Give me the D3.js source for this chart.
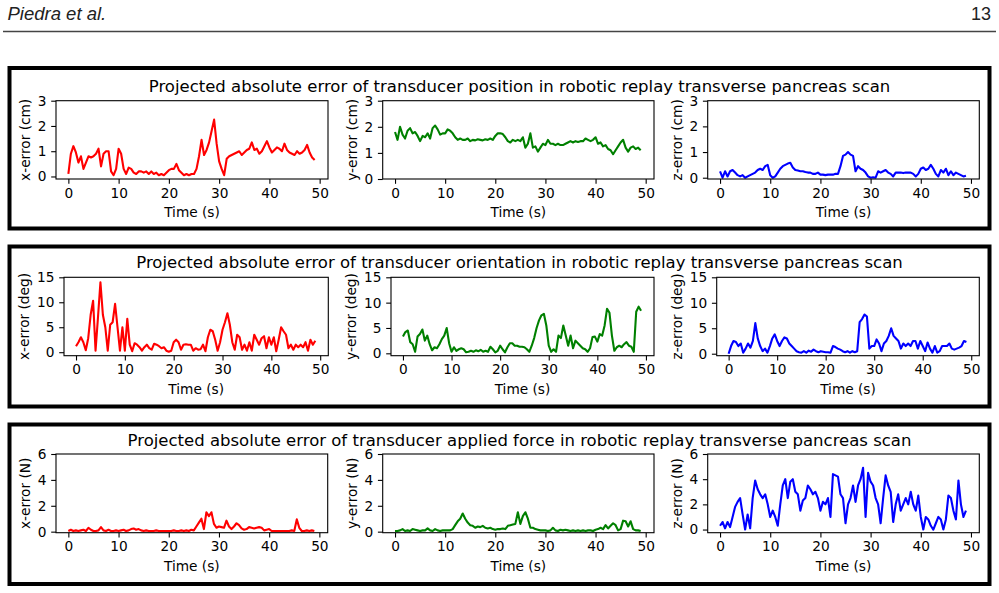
<!DOCTYPE html>
<html>
<head>
<meta charset="utf-8">
<script src="https://cdn.jsdelivr.net/npm/d3@7"></script>
<style>
  body { margin: 0; background: #fff; }
  svg { display: block; }
</style>
</head>
<body>
<div id="chart"></div>
<script>
const timeStep = 0.5;

const xTicks   = [0, 10, 20, 30, 40, 50];
const cmTicks  = [0, 1, 2, 3];
const degTicks = [0, 5, 10, 15];
const nTicks   = [0, 2, 4, 6];

const panelTitles = [
  "Projected absolute error of transducer position in robotic replay transverse pancreas scan",
  "Projected absolute error of transducer orientation in robotic replay transverse pancreas scan",
  "Projected absolute error of transducer applied force in robotic replay transverse pancreas scan"
];

const yLabels = [
  ["x-error (cm)", "y-error (cm)", "z-error (cm)"],
  ["x-error (deg)", "y-error (deg)", "z-error (deg)"],
  ["x-error (N)", "y-error (N)", "z-error (N)"]
];

const seriesColors = ["#ff0000", "#008000", "#0000ff"];

const posX = [
  0.1, 0.9, 1.2, 0.95, 0.55, 0.8, 0.3, 0.55, 0.8, 0.75,
  0.8, 0.9, 1.1, 0.4, 0.9, 1.0, 1.0, 0.2, 0.05, 0.3,
  1.1, 0.9, 0.3, 0.1, 0.35, 0.3, 0.15, 0.1, 0.2, 0.2,
  0.15, 0.2, 0.1, 0.2, 0.1, 0.15, 0.05, 0.1, 0.05, 0.15,
  0.25, 0.3, 0.3, 0.5, 0.25, 0.15, 0.05, 0.1, 0.05, 0.1,
  0.1, 0.3, 0.8, 1.45, 0.85, 1.05, 1.35, 1.8, 2.25, 1.3,
  0.6, 0.3, 0.05, 0.7, 0.8, 0.85, 0.9, 0.95, 1.0, 0.85,
  0.95, 1.05, 1.1, 1.35, 1.05, 1.1, 0.9, 1.0, 1.2, 1.4,
  1.15, 0.95, 1.05, 1.15, 1.1, 1.0, 1.3, 1.05, 0.95, 0.9,
  0.85, 1.0, 0.9, 0.95, 1.05, 1.25, 0.95, 0.75, 0.65
];
const posY = [
  1.8, 1.5, 2.0, 1.7, 1.55, 1.85, 1.95, 1.75, 1.8, 1.65,
  1.45, 1.65, 1.6, 1.75, 1.55, 1.95, 2.05, 1.9, 1.7, 1.75,
  1.75, 1.9, 1.85, 1.75, 1.6, 1.5, 1.55, 1.5, 1.5, 1.55,
  1.45, 1.5, 1.48, 1.52, 1.5, 1.48, 1.52, 1.5, 1.55, 1.5,
  1.65, 1.75, 1.75, 1.72, 1.6, 1.45, 1.4, 1.5, 1.45, 1.5,
  1.45, 1.6, 1.2, 1.35, 1.75, 1.2, 1.25, 1.05, 1.2, 1.35,
  1.3, 1.5, 1.35, 1.35, 1.3, 1.35, 1.3, 1.3, 1.35, 1.4,
  1.45, 1.4, 1.45, 1.42, 1.45, 1.45, 1.55, 1.5, 1.45, 1.5,
  1.6, 1.35, 1.4, 1.25, 1.3, 1.15, 1.1, 0.95, 1.1, 1.25,
  1.4, 1.5, 1.2, 1.05, 1.2, 1.25, 1.15, 1.2, 1.1
];
const posZ = [
  0.25, 0.0, 0.25, 0.05, 0.25, 0.3, 0.2, 0.1, 0.05, 0.1,
  0.0, 0.05, 0.1, 0.15, 0.2, 0.3, 0.35, 0.3, 0.45, 0.5,
  0.1, 0.0, 0.05, 0.2, 0.35, 0.45, 0.5, 0.55, 0.58, 0.4,
  0.3, 0.28, 0.25, 0.25, 0.22, 0.2, 0.2, 0.15, 0.15, 0.2,
  0.12, 0.12, 0.1, 0.12, 0.12, 0.12, 0.15, 0.15, 0.45, 0.85,
  0.9, 1.0, 0.9, 0.85, 0.25, 0.45, 0.35, 0.3, 0.2, 0.05,
  0.0, 0.02, 0.0, 0.25, 0.2, 0.25, 0.3, 0.2, 0.15, 0.05,
  0.2, 0.2, 0.2, 0.18, 0.2, 0.2, 0.2, 0.15, 0.05, 0.15,
  0.35, 0.4, 0.3, 0.35, 0.5, 0.35, 0.15, 0.05, 0.3, 0.2,
  0.35, 0.1, 0.25, 0.1, 0.2, 0.15, 0.1, 0.05, 0.08
];
const oriX = [
  1.2, 2.0, 3.0, 2.0, 0.4, 2.8, 7.5, 10.3, 0.3, 7.0,
  14.0, 7.5, 5.0, 0.3, 5.5, 6.0, 9.7, 5.0, 0.3, 5.0,
  0.3, 6.7, 1.5, 0.2, 1.8, 1.5, 1.0, 0.3, 1.0, 1.5,
  0.8, 0.5, 1.7, 1.5, 1.2, 0.8, 1.0, 0.3, 0.1, 0.3,
  2.0, 2.5, 2.0, 0.5, 1.5, 1.6, 1.5, 1.5, 0.3, 0.8,
  0.5, 0.6, 1.5, 0.2, 3.0, 4.5, 4.2, 2.5, 0.3, 2.0,
  4.5, 6.0, 7.8, 5.5, 2.0, 0.5, 3.5, 3.0, 0.5, 1.5,
  0.3, 2.0, 0.3, 3.5, 2.5, 1.5, 2.8, 3.2, 0.8, 3.0,
  1.5, 3.0, 0.2, 2.5, 5.0, 4.2, 3.5, 0.8, 1.5, 0.5,
  1.5, 1.0, 1.5, 1.0, 2.0, 0.3, 2.5, 1.5, 2.3
];
const oriY = [
  3.3, 4.2, 4.5, 2.2, 1.8, 0.3, 3.3, 3.8, 4.7, 2.5,
  3.5, 1.8, 0.6, 1.2, 1.0, 1.8, 2.8, 3.5, 5.0, 2.0,
  0.3, 1.2, 0.5, 0.8, 1.0, 0.8, 0.2, 0.3, 0.5, 0.3,
  0.6, 0.4, 0.7, 0.3, 0.5, 0.3, 1.3, 0.8, 0.2, 0.5,
  1.5, 0.8, 0.2, 1.2, 2.0, 2.0, 1.5, 1.5, 1.3, 1.3,
  1.2, 0.8, 0.3, 1.5, 3.0, 5.0, 6.5, 7.5, 7.8, 5.5,
  1.5, 0.3, 0.8, 0.3, 3.5, 3.0, 5.5, 3.5, 1.5, 3.5,
  1.0, 2.5, 2.0, 1.5, 1.0, 0.8, 0.3, 1.0, 3.2, 3.3,
  2.3, 3.8, 3.5, 5.5, 8.8, 8.0, 3.5, 0.5, 1.2, 1.5,
  1.2, 1.8, 2.2, 1.5, 1.3, 0.3, 8.2, 9.2, 8.4
];
const oriZ = [
  0.0, 1.5, 2.5, 2.3, 1.5, 2.0, 0.2, 1.0, 2.0, 1.2,
  2.5, 6.0, 3.0, 1.5, 0.5, 1.0, 0.2, 1.5, 3.0, 3.8,
  2.5, 1.5, 2.5, 3.2, 3.0, 2.0, 1.5, 1.0, 0.5, 0.3,
  0.2, 0.5, 0.2, 0.6, 0.4, 0.8, 0.5, 0.3, 0.5, 0.4,
  0.3, 0.3, 0.2, 1.5, 1.3, 1.0, 0.8, 0.5, 0.3, 0.5,
  0.2, 0.5, 0.3, 0.5, 6.2, 6.8, 7.7, 7.3, 1.0, 1.5,
  1.5, 2.8, 2.0, 0.5, 2.0, 2.5, 3.5, 5.0, 3.5, 3.0,
  2.5, 1.0, 2.0, 1.5, 2.0, 1.5, 2.5, 2.5, 1.0, 2.5,
  1.5, 0.5, 2.2, 1.0, 0.2, 1.5, 0.2, 0.5, 1.5, 1.5,
  1.5, 2.0, 1.0, 0.8, 1.0, 1.2, 1.5, 2.5, 2.3
];
const forceX = [
  0.05, 0.15, 0.05, 0.1, 0.05, 0.1, 0.15, 0.05, 0.3, 0.15,
  0.05, 0.05, 0.1, 0.35, 0.1, 0.05, 0.15, 0.05, 0.05, 0.1,
  0.05, 0.1, 0.15, 0.05, 0.1, 0.2, 0.25, 0.15, 0.2, 0.1,
  0.05, 0.1, 0.05, 0.05, 0.05, 0.1, 0.05, 0.05, 0.05, 0.05,
  0.05, 0.05, 0.1, 0.05, 0.05, 0.1, 0.05, 0.1, 0.05, 0.15,
  0.1, 0.4, 0.7, 1.0, 0.2, 1.5, 1.2, 1.5, 0.6, 0.3,
  0.4, 0.35, 0.3, 0.85, 0.4, 0.2, 0.4, 0.65, 0.5, 0.25,
  0.15, 0.2, 0.35, 0.3, 0.25, 0.3, 0.35, 0.3, 0.1, 0.15,
  0.2, 0.05, 0.05, 0.05, 0.05, 0.05, 0.05, 0.05, 0.05, 0.1,
  0.05, 0.95, 0.3, 0.05, 0.05, 0.1, 0.05, 0.1, 0.05
];
const forceY = [
  0.05, 0.05, 0.1, 0.2, 0.05, 0.1, 0.05, 0.2, 0.15, 0.1,
  0.05, 0.1, 0.1, 0.25, 0.1, 0.05, 0.2, 0.1, 0.05, 0.1,
  0.1, 0.1, 0.1, 0.2, 0.5, 0.8, 1.0, 1.4, 1.0, 0.7,
  0.5, 0.45, 0.3, 0.4, 0.35, 0.45, 0.3, 0.25, 0.3, 0.2,
  0.15, 0.2, 0.2, 0.25, 0.2, 0.45, 0.5, 0.55, 0.6, 1.5,
  0.6, 1.2, 1.5, 1.0, 0.3, 0.3, 0.2, 0.15, 0.1, 0.1,
  0.1, 0.05, 0.1, 0.3, 0.1, 0.05, 0.15, 0.1, 0.15, 0.1,
  0.05, 0.1, 0.05, 0.1, 0.05, 0.1, 0.05, 0.1, 0.1, 0.05,
  0.15, 0.2, 0.3, 0.2, 0.5, 0.25, 0.45, 0.65, 0.5, 0.1,
  0.2, 0.85, 0.8, 0.4, 0.8, 0.2, 0.1, 0.1, 0.05
];
const forceZ = [
  0.3, 0.6, 0.1, 0.6, 0.2, 1.0, 1.8, 2.2, 2.5, 1.2,
  0.0, 1.2, 0.1, 2.5, 3.9, 3.2, 2.8, 2.5, 2.8, 2.0,
  1.0, 1.5, 1.0, 0.3, 2.0, 3.5, 4.0, 2.5, 3.8, 4.0,
  3.0, 2.8, 1.5, 2.3, 2.5, 3.5, 3.2, 2.8, 3.0, 2.5,
  1.5, 2.2, 2.0, 2.5, 1.0, 4.4, 4.3, 4.2, 2.8, 2.5,
  0.5, 2.0, 2.5, 3.5, 2.2, 3.5, 4.0, 4.9, 1.0, 4.5,
  3.8, 3.5, 2.5, 2.0, 0.5, 2.5, 4.3, 3.5, 3.0, 0.6,
  2.0, 2.8, 1.5, 2.0, 2.5, 2.0, 3.0, 2.0, 1.5, 2.7,
  1.0, 0.0, 1.0, 0.8, 0.3, 0.0, 0.5, 1.0, 0.8, 0.0,
  0.8, 2.7, 2.5, 1.5, 0.8, 3.9, 2.0, 1.0, 1.5
];

const panelSeries = [[posX, posY, posZ], [oriX, oriY, oriZ], [forceX, forceY, forceZ]];
const panelTicks  = [cmTicks, degTicks, nTicks];

// ── Layout (pixels) ──────────────────────────
const W = 999, H = 593;
const FONT = "'DejaVu Sans', sans-serif";
const xDomain = [-2.46, 51.66];

const panels = [
  { top: 68,    bottom: 228.5, titleY: 91.7,  frameTop: 100.7, frameBottom: 179,
    frames: [[56, 328], [382.7, 654], [707.7, 979.3]],
    yDomains: [[-0.1, 3], [0, 3], [-0.05, 3]] },
  { top: 246.5, bottom: 406.5, titleY: 268.3, frameTop: 277.3, frameBottom: 355.7,
    frames: [[64, 328.3], [391, 654], [716.7, 979.3]],
    yDomains: [[-0.7, 15], [-0.47, 15], [-0.39, 15]] },
  { top: 424.5, bottom: 584,   titleY: 446,   frameTop: 454,   frameBottom: 532.7,
    frames: [[56, 327.7], [382.7, 654], [707.7, 979.3]],
    yDomains: [[-0.08, 6], [-0.08, 6], [-0.25, 6]] }
];

const svg = d3.select("#chart").append("svg")
  .attr("width", W).attr("height", H);

svg.append("rect").attr("width", W).attr("height", H).attr("fill", "#fff");

// ── Page header ──────────────────────────────
svg.append("text")
  .attr("x", 7.5).attr("y", 19.5)
  .attr("font-family", "'Liberation Sans', Arial, sans-serif")
  .attr("font-style", "italic")
  .attr("font-size", "18.5px")
  .attr("fill", "#222")
  .text("Piedra et al.");

svg.append("text")
  .attr("x", 991).attr("y", 19.5)
  .attr("text-anchor", "end")
  .attr("font-family", "'Liberation Sans', Arial, sans-serif")
  .attr("font-size", "18px")
  .attr("fill", "#222")
  .text("13");

svg.append("line")
  .attr("x1", 3).attr("x2", 996)
  .attr("y1", 31.5).attr("y2", 31.5)
  .attr("stroke", "#444").attr("stroke-width", 1.6);

// ── Panels ───────────────────────────────────
panels.forEach((p, pi) => {
  svg.append("rect")
    .attr("x", 9.5).attr("y", p.top)
    .attr("width", 980).attr("height", p.bottom - p.top)
    .attr("fill", "none")
    .attr("stroke", "#000")
    .attr("stroke-width", 4);

  svg.append("text")
    .attr("x", 519.5).attr("y", p.titleY)
    .attr("text-anchor", "middle")
    .attr("font-family", FONT)
    .attr("font-size", "16.5px")
    .attr("fill", "#000")
    .text(panelTitles[pi]);

  p.frames.forEach((fr, si) => {
    drawSubplot(fr, p.frameTop, p.frameBottom, p.yDomains[si],
      panelSeries[pi][si], panelTicks[pi], yLabels[pi][si], seriesColors[si]);
  });
});

function drawSubplot([x0, x1], y0, y1, yDomain, values, yTicks, yLabel, color) {
  const x = d3.scaleLinear().domain(xDomain).range([x0, x1]);
  const y = d3.scaleLinear().domain(yDomain).range([y1, y0]);
  const g = svg.append("g");

  const style = sel => sel
    .call(a => a.select(".domain").remove())
    .call(a => a.selectAll(".tick line").attr("stroke", "#000").attr("stroke-width", 1.1))
    .call(a => a.selectAll(".tick text")
      .attr("fill", "#000")
      .attr("font-size", "13.7px")
      .attr("font-family", FONT));

  g.append("g")
    .attr("transform", `translate(0,${y1})`)
    .call(d3.axisBottom(x).tickValues(xTicks).tickSize(4.8).tickPadding(4.2).tickFormat(d3.format("d")))
    .call(style);

  const yAxis = g.append("g")
    .attr("transform", `translate(${x0},0)`)
    .call(d3.axisLeft(y).tickValues(yTicks).tickSize(4.8).tickPadding(4.8).tickFormat(d3.format("d")))
    .call(style);

  // series line
  const line = d3.line()
    .x((d, i) => x(i * timeStep))
    .y(d => y(d));

  g.append("path")
    .datum(values)
    .attr("d", line)
    .attr("fill", "none")
    .attr("stroke", color)
    .attr("stroke-width", 2.1)
    .attr("stroke-linejoin", "round");

  // axes frame
  g.append("rect")
    .attr("x", x0).attr("y", y0)
    .attr("width", x1 - x0).attr("height", y1 - y0)
    .attr("fill", "none")
    .attr("stroke", "#000")
    .attr("stroke-width", 1.1);

  // axis labels
  g.append("text")
    .attr("x", (x0 + x1) / 2).attr("y", y1 + 38)
    .attr("text-anchor", "middle")
    .attr("font-family", FONT)
    .attr("font-size", "13.7px")
    .text("Time (s)");

  const bb = yAxis.node().getBBox();
  const lx = x0 + bb.x - 7.5;
  g.append("text")
    .attr("transform", `translate(${lx},${(y0 + y1) / 2}) rotate(-90)`)
    .attr("text-anchor", "middle")
    .attr("font-family", FONT)
    .attr("font-size", "13.7px")
    .text(yLabel);
}
</script>
</body>
</html>
